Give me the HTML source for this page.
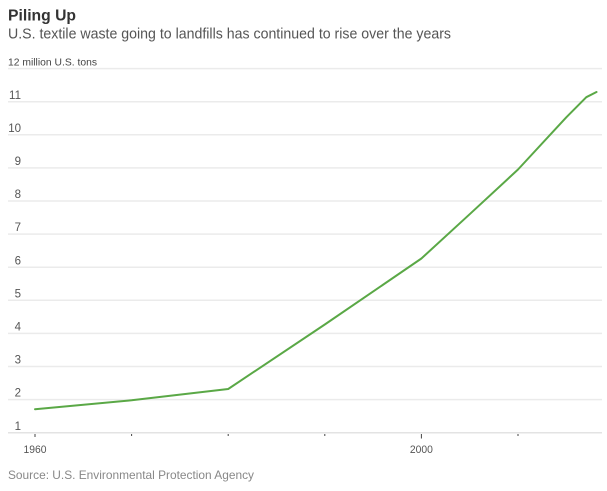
<!DOCTYPE html>
<html>
<head>
<meta charset="utf-8">
<style>
  html, body { margin: 0; padding: 0; background: #fff; }
  svg { display: block; }
  text { font-family: "Liberation Sans", sans-serif; }
</style>
</head>
<body>
<svg width="607" height="491" viewBox="0 0 607 491" xmlns="http://www.w3.org/2000/svg">
  <!-- Title -->
  <text x="8" y="20.7" font-size="16" font-weight="bold" fill="#333" textLength="68" lengthAdjust="spacingAndGlyphs">Piling Up</text>
  <text x="8" y="38.5" font-size="14.5" fill="#555" textLength="443" lengthAdjust="spacingAndGlyphs">U.S. textile waste going to landfills has continued to rise over the years</text>

  <!-- Gridlines -->
  <g stroke="#ebebeb" stroke-width="1.5">
    <line x1="8" x2="602" y1="68.6" y2="68.6"/>
    <line x1="8" x2="602" y1="101.7" y2="101.7"/>
    <line x1="8" x2="602" y1="134.8" y2="134.8"/>
    <line x1="8" x2="602" y1="167.9" y2="167.9"/>
    <line x1="8" x2="602" y1="201.0" y2="201.0"/>
    <line x1="8" x2="602" y1="234.1" y2="234.1"/>
    <line x1="8" x2="602" y1="267.2" y2="267.2"/>
    <line x1="8" x2="602" y1="300.3" y2="300.3"/>
    <line x1="8" x2="602" y1="333.4" y2="333.4"/>
    <line x1="8" x2="602" y1="366.5" y2="366.5"/>
    <line x1="8" x2="602" y1="399.6" y2="399.6"/>
  </g>
  <line x1="8" x2="602" y1="432.7" y2="432.7" stroke="#e3e3e3" stroke-width="1.5"/>

  <!-- Y labels -->
  <text x="8" y="65.5" font-size="10.5" fill="#444" textLength="89" lengthAdjust="spacingAndGlyphs">12 million U.S. tons</text>
  <g font-size="11.5" fill="#555" text-anchor="end">
    <text x="21" y="98.8">11</text>
    <text x="21" y="131.9">10</text>
    <text x="21" y="165">9</text>
    <text x="21" y="198.1">8</text>
    <text x="21" y="231.2">7</text>
    <text x="21" y="264.3">6</text>
    <text x="21" y="297.4">5</text>
    <text x="21" y="330.5">4</text>
    <text x="21" y="363.6">3</text>
    <text x="21" y="396.7">2</text>
    <text x="21" y="429.8">1</text>
  </g>

  <!-- X ticks -->
  <g stroke="#444" stroke-width="1">
    <line x1="35" x2="35" y1="434" y2="437"/>
    <line x1="131.6" x2="131.6" y1="434" y2="436"/>
    <line x1="228.2" x2="228.2" y1="434" y2="436"/>
    <line x1="324.8" x2="324.8" y1="434" y2="436"/>
    <line x1="421.4" x2="421.4" y1="434" y2="438.5"/>
    <line x1="518" x2="518" y1="434" y2="436"/>
  </g>
  <g font-size="11" fill="#555" text-anchor="middle">
    <text x="35" y="453" textLength="23" lengthAdjust="spacingAndGlyphs">1960</text>
    <text x="421.4" y="453" textLength="23" lengthAdjust="spacingAndGlyphs">2000</text>
  </g>

  <!-- Series -->
  <polyline fill="none" stroke="#5aa846" stroke-width="2" stroke-linejoin="round" stroke-linecap="round"
    points="35,409.2 131.6,400.3 228.2,389.0 324.8,324.5 421.4,258.5 469.7,214.2 518,169.5 566.3,117.3 586.3,97.2 596.5,92"/>

  <!-- Source -->
  <text x="8" y="479" font-size="12" fill="#888" textLength="246" lengthAdjust="spacingAndGlyphs">Source: U.S. Environmental Protection Agency</text>
</svg>
</body>
</html>
